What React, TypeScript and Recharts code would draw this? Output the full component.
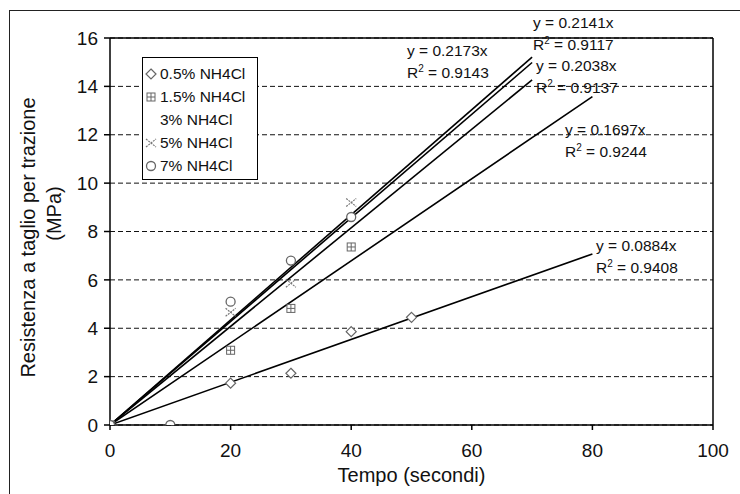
import React from 'react';
import {
  CartesianGrid,
  ComposedChart,
  ReferenceLine,
  Scatter,
  XAxis,
  YAxis,
} from 'recharts';

// concentrations shown in the legend
const seriesNames = ['0.5% NH4Cl', '1.5% NH4Cl', '3% NH4Cl', '5% NH4Cl', '7% NH4Cl'];

// measured points (time s, stress MPa)
const time05 = [0, 20, 30, 40, 50];
const stress05 = [0, 1.73, 2.14, 3.86, 4.45];
const time15 = [0, 20, 30, 40];
const stress15 = [0, 3.09, 4.82, 7.36];
const time5 = [0, 20, 30, 40];
const stress5 = [0, 4.66, 5.86, 9.2];
const time7 = [0, 10, 20, 30, 40];
const stress7 = [0, 0, 5.1, 6.8, 8.6];

// linear trend lines through the origin
const trendSlopes = [0.0884, 0.1697, 0.2038, 0.2141, 0.2173];
const trendR2 = ['0.9408', '0.9244', '0.9137', '0.9117', '0.9143'];
const trendEnd = [80, 80, 70, 70, 70];

const xTicks = [0, 20, 40, 60, 80, 100];
const yTicks = [0, 2, 4, 6, 8, 10, 12, 14, 16];

const FONT = '"Liberation Sans", Arial, sans-serif';

// where the equation labels sit (left, top of the y= line)
const labelPos = [
  { left: 596, top: 235 },
  { left: 565, top: 119 },
  { left: 536, top: 55 },
  { left: 533, top: 12 },
  { left: 407, top: 40 },
];

const toPoints = (xs: number[], ys: number[]) => xs.map((x, i) => ({ x, y: ys[i] }));

const Diamond = (p: any) => {
  const { cx, cy } = p;
  if (cx == null) return <g />;
  return (
    <path
      d={`M${cx},${cy - 5} L${cx + 5},${cy} L${cx},${cy + 5} L${cx - 5},${cy} Z`}
      fill="#fff"
      stroke="#666"
      strokeWidth={1.2}
    />
  );
};

const Square = (p: any) => {
  const { cx, cy } = p;
  if (cx == null) return <g />;
  return (
    <g stroke="#666" strokeWidth={1} fill="none">
      <rect x={cx - 4} y={cy - 4} width={8} height={8} />
      <line x1={cx - 4} y1={cy} x2={cx + 4} y2={cy} />
      <line x1={cx} y1={cy - 4} x2={cx} y2={cy + 4} />
    </g>
  );
};

const Cross = (p: any) => {
  const { cx, cy } = p;
  if (cx == null) return <g />;
  return (
    <g stroke="#777" strokeWidth={1.2} strokeDasharray="2 1">
      <line x1={cx - 5} y1={cy - 4} x2={cx + 5} y2={cy + 4} />
      <line x1={cx - 5} y1={cy + 4} x2={cx + 5} y2={cy - 4} />
    </g>
  );
};

const Circle = (p: any) => {
  const { cx, cy } = p;
  if (cx == null) return <g />;
  return <circle cx={cx} cy={cy} r={4.5} fill="#fff" stroke="#666" strokeWidth={1.3} />;
};

const NoDot = () => <g />;

const markers = [Diamond, Square, null, Cross, Circle];

const LegendBox = () => (
  <div
    style={{
      position: 'absolute',
      left: 142,
      top: 57,
      border: '1px solid #000',
      background: '#fff',
      width: 114,
      padding: '4px 0 2px 0',
      fontFamily: FONT,
      fontSize: 15.5,
      color: '#111',
    }}
  >
    {seriesNames.map((name, i) => {
      const M = markers[i];
      return (
        <div key={name} style={{ display: 'flex', alignItems: 'center', height: 23 }}>
          <svg width={15} height={14} style={{ flex: 'none' }}>
            {M ? <M cx={8} cy={7} /> : null}
          </svg>
          <span style={{ marginLeft: 2, whiteSpace: 'nowrap' }}>{name}</span>
        </div>
      );
    })}
  </div>
);

const YTitle = (props: any) => {
  const vb = props.viewBox || { x: 0, y: 38, width: 110, height: 387 };
  const cy = vb.y + vb.height / 2;
  return (
    <g fontFamily={FONT} fontSize={20} fill="#111">
      <text x={28} y={cy + 6} transform={`rotate(-90 28 ${cy + 6})`} textAnchor="middle" dominantBaseline="central">
        Resistenza a taglio per trazione
      </text>
      <text x={54} y={cy - 18} transform={`rotate(-90 54 ${cy - 18})`} textAnchor="middle" dominantBaseline="central">
        (MPa)
      </text>
    </g>
  );
};

export default function App() {
  const pts05 = toPoints(time05, stress05);
  const pts15 = toPoints(time15, stress15);
  const pts5 = toPoints(time5, stress5);
  const pts7 = toPoints(time7, stress7);

  const trends = trendSlopes.map((s, i) => [
    { x: 0, y: 0 },
    { x: trendEnd[i], y: s * trendEnd[i] },
  ]);

  return (
    <div style={{ position: 'absolute', left: 0, top: 0, width: 740, height: 494, background: '#fff', overflow: 'hidden' }}>
      <div
        style={{
          position: 'absolute',
          left: 9,
          top: 10,
          width: 740,
          height: 494,
          borderTop: '1.5px solid #222',
          borderLeft: '1.5px solid #222',
        }}
      />
      <ComposedChart
        width={740}
        height={494}
        margin={{ top: 38, right: 27, left: 0, bottom: 0 }}
        style={{ position: 'absolute', left: 0, top: 0 }}
      >
        <CartesianGrid horizontal vertical={false} stroke="#111" strokeDasharray="5 3" strokeWidth={1} />
        <XAxis
          type="number"
          dataKey="x"
          domain={[0, 100]}
          ticks={xTicks}
          allowDataOverflow
          height={69}
          stroke="#000"
          strokeWidth={1.5}
          tickSize={5}
          tickMargin={14}
          tick={{ fill: '#111', fontSize: 19, fontFamily: FONT }}
          label={{
            value: 'Tempo (secondi)',
            position: 'insideBottom',
            offset: 12,
            style: { fill: '#111', fontSize: 20, fontFamily: FONT },
          }}
        />
        <YAxis
          type="number"
          dataKey="y"
          domain={[0, 16]}
          ticks={yTicks}
          allowDataOverflow
          width={110}
          stroke="#000"
          strokeWidth={1.5}
          tickSize={6}
          tickMargin={6}
          tick={{ fill: '#111', fontSize: 19, fontFamily: FONT }}
          label={<YTitle />}
        />
        <ReferenceLine y={16} stroke="#000" strokeWidth={1.5} />
        <ReferenceLine x={100} stroke="#000" strokeWidth={1.5} />
        {trends.map((t, i) => (
          <Scatter
            key={`trend-${i}`}
            data={t}
            line={{ stroke: '#000', strokeWidth: 1.6 }}
            shape={NoDot}
            legendType="none"
            isAnimationActive={false}
          />
        ))}
        <Scatter name={seriesNames[0]} data={pts05} shape={Diamond} isAnimationActive={false} />
        <Scatter name={seriesNames[1]} data={pts15} shape={Square} isAnimationActive={false} />
        <Scatter name={seriesNames[3]} data={pts5} shape={Cross} isAnimationActive={false} />
        <Scatter name={seriesNames[4]} data={pts7} shape={Circle} isAnimationActive={false} />
      </ComposedChart>
      <LegendBox />
      {trendSlopes.map((s, i) => (
        <div
          key={`lbl-${i}`}
          style={{
            position: 'absolute',
            left: labelPos[i].left,
            top: labelPos[i].top,
            fontFamily: FONT,
            fontSize: 15.5,
            lineHeight: '22px',
            color: '#111',
            whiteSpace: 'nowrap',
          }}
        >
          <div>y = {s.toFixed(4)}x</div>
          <div>
            R<sup style={{ fontSize: 10, lineHeight: 0 }}>2</sup> = {trendR2[i]}
          </div>
        </div>
      ))}
    </div>
  );
}
